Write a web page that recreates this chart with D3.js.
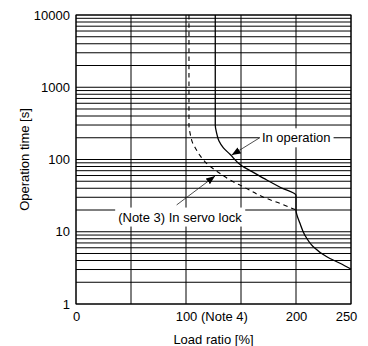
<!DOCTYPE html>
<html>
<head>
<meta charset="utf-8">
<script src="https://cdn.jsdelivr.net/npm/d3@7"></script>
<style>
  html, body { margin: 0; padding: 0; background: #fff; }
  svg { display: block; }
  text { font-family: "Liberation Sans", Arial, sans-serif; fill: #000; }
</style>
</head>
<body>
<div id="chart"></div>
<script>
// Load ratio axis ticks and their labels
const loadTicks = [0, 50, 100, 150, 200, 250];
const loadTickLabels = ["0", "", "100", "", "200", "250"];
// Operation time axis labelled ticks
const timeTicks = [1, 10, 100, 1000, 10000];

// Overload curve while running
const operationLoad = [126.6, 126.6, 127.9, 130, 134, 140, 150.6, 160, 173.4, 186, 200, 200, 203.6, 208, 215.7, 228, 240, 250];
const operationTime = [10000, 300, 230, 180, 145, 118, 82, 68, 52, 41, 32, 20, 13.1, 9, 6.2, 4.5, 3.66, 3.05];

// Overload curve while stopped in servo lock
const servoLoad = [102.7, 102.7, 104, 106, 109, 113, 120, 131, 140, 152, 173, 186, 200];
const servoTime = [10000, 300, 220, 170, 140, 112, 85, 64, 52, 42, 29, 24.5, 20];

const W = 368, H = 346;
const svg = d3.select("#chart").append("svg").attr("width", W).attr("height", H);

const x = d3.scaleLinear().domain([0, 250]).range([76, 351]);
const y = d3.scaleLog().domain([1, 10000]).range([304, 15]);

// Grid: every 1..9 step of each decade, and the load ticks
const grid = svg.append("g").attr("stroke", "#000").attr("stroke-width", 1);
grid.selectAll("line.h").data(y.ticks()).join("line")
  .attr("class", "h")
  .attr("x1", x(0)).attr("x2", x(250))
  .attr("y1", d => y(d)).attr("y2", d => y(d));
grid.selectAll("line.v").data(loadTicks).join("line")
  .attr("class", "v")
  .attr("x1", d => x(d)).attr("x2", d => x(d))
  .attr("y1", y(1)).attr("y2", y(10000));

// Curves
const toPoints = (xs, ys) => xs.map((v, i) => [v, ys[i]]);
const line = d3.line().x(d => x(d[0])).y(d => y(d[1])).curve(d3.curveMonotoneY);

svg.append("path")
  .datum(toPoints(servoLoad, servoTime))
  .attr("d", line)
  .attr("fill", "none").attr("stroke", "#000").attr("stroke-width", 1.1)
  .attr("stroke-dasharray", "4.5,3.8");

svg.append("path")
  .datum(toPoints(operationLoad, operationTime))
  .attr("d", line)
  .attr("fill", "none").attr("stroke", "#000").attr("stroke-width", 1.3);

// Arrow marker for the callouts
svg.append("defs").append("marker")
  .attr("id", "arrow")
  .attr("markerUnits", "userSpaceOnUse")
  .attr("markerWidth", 9).attr("markerHeight", 7)
  .attr("refX", 9).attr("refY", 3.5)
  .attr("orient", "auto")
  .append("path").attr("d", "M0,0L9,3.5L0,7Z").attr("fill", "#000");

// Callout labels with a white backing box
function callout(label, tx, ty, anchor, fromX, fromY, tipX, tipY) {
  const g = svg.append("g");
  const rect = g.append("rect").attr("fill", "#fff");
  const t = g.append("text")
    .attr("x", tx).attr("y", ty).attr("dy", "0.35em")
    .attr("text-anchor", anchor)
    .attr("font-size", 13)
    .text(label);
  const b = t.node().getBBox();
  rect.attr("x", b.x - 3).attr("y", b.y - 2).attr("width", b.width + 6).attr("height", b.height + 4);
  svg.append("line")
    .attr("x1", fromX).attr("y1", fromY).attr("x2", tipX).attr("y2", tipY)
    .attr("stroke", "#222").attr("stroke-width", 0.8)
    .attr("marker-end", "url(#arrow)");
  return b;
}

const bOp = callout("In operation", x(169), y(200), "start",
  x(167), y(200), x(141.5), y(115));
svg.append("line")
  .attr("x1", bOp.x - 3).attr("x2", x(167))
  .attr("y1", y(200)).attr("y2", y(200))
  .attr("stroke", "#000");

callout("(Note 3) In servo lock", x(94.5), y(16), "middle",
  x(91.5), y(23.5), x(126.4), y(59));

// Axes
const yAxis = svg.append("g")
  .attr("transform", `translate(${x(0)},0)`)
  .call(d3.axisLeft(y).tickValues(timeTicks).tickFormat(d3.format("d")).tickSize(0).tickPadding(6));
yAxis.select(".domain").remove();
yAxis.selectAll("text").attr("font-size", 13).attr("font-family", null);

const labelled = loadTicks.filter((d, i) => loadTickLabels[i] !== "");
const xAxis = svg.append("g")
  .attr("transform", `translate(0,${y(1)})`)
  .call(d3.axisBottom(x).tickValues(labelled)
    .tickFormat(d => loadTickLabels[loadTicks.indexOf(d)]).tickSize(0).tickPadding(8));
xAxis.select(".domain").remove();
xAxis.selectAll("text").attr("font-size", 13).attr("font-family", null);
xAxis.selectAll(".tick").filter(d => d === 100).select("text").each(function () {
  const t = d3.select(this);
  const w = this.getComputedTextLength();
  t.attr("text-anchor", "start").attr("x", -w / 2);
  t.append("tspan").text(" (Note 4)");
});
xAxis.selectAll(".tick").filter(d => d === 250).select("text").attr("dx", -5);

// Plot frame
svg.append("rect")
  .attr("x", x(0)).attr("y", y(10000))
  .attr("width", x(250) - x(0)).attr("height", y(1) - y(10000))
  .attr("fill", "none").attr("stroke", "#000").attr("stroke-width", 1);

// Axis titles
svg.append("text")
  .attr("x", (x(0) + x(250)) / 2).attr("y", 344)
  .attr("text-anchor", "middle").attr("font-size", 13)
  .text("Load ratio [%]");
svg.append("text")
  .attr("transform", `translate(29,${(y(1) + y(10000)) / 2 + 0}) rotate(-90)`)
  .attr("text-anchor", "middle").attr("font-size", 13)
  .text("Operation time [s]");
</script>
</body>
</html>
